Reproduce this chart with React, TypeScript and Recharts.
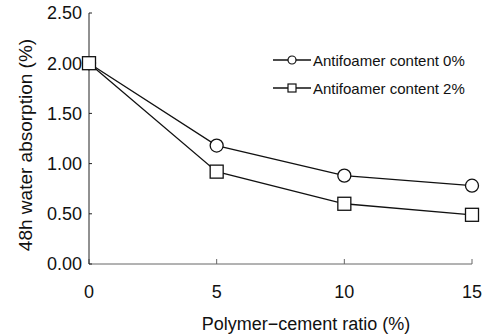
import React from 'react';
import { LineChart, Line, XAxis, YAxis, Legend, Label } from 'recharts';

// polymer-cement ratio (%)
const ratios = [0, 5, 10, 15];
// 48h water absorption (%)
const antifoamer0 = [2.0, 1.18, 0.88, 0.78];
const antifoamer2 = [2.0, 0.92, 0.6, 0.49];
const yTicks = [0, 0.5, 1.0, 1.5, 2.0, 2.5];
const seriesNames = ['Antifoamer content 0%', 'Antifoamer content 2%'];

const data = ratios.map((r, i) => ({ ratio: r, a0: antifoamer0[i], a2: antifoamer2[i] }));

const FONT = '"Liberation Sans", Arial, Helvetica, sans-serif';
const INK = '#111';

const CircleDot = (props: any) => {
  const { cx, cy } = props;
  if (cx == null || cy == null) return null;
  return <circle cx={cx} cy={cy} r={6.5} fill="#fff" stroke={INK} strokeWidth={1.3} />;
};

const SquareDot = (props: any) => {
  const { cx, cy } = props;
  if (cx == null || cy == null) return null;
  return <rect x={cx - 6.5} y={cy - 6.5} width={13} height={13} fill="#fff" stroke={INK} strokeWidth={1.3} />;
};

const LegendBox = () => (
  <div style={{ fontFamily: FONT, fontSize: 15, color: INK }}>
    {seriesNames.map((name, i) => (
      <div key={name} style={{ display: 'flex', alignItems: 'center', height: 28 }}>
        <svg width={38} height={14} style={{ marginRight: 2 }}>
          <line x1={0} y1={7} x2={38} y2={7} stroke={INK} strokeWidth={1.3} />
          {i === 0 ? (
            <circle cx={19} cy={7} r={4} fill="#fff" stroke={INK} strokeWidth={1.2} />
          ) : (
            <rect x={15} y={3} width={8} height={8} fill="#fff" stroke={INK} strokeWidth={1.2} />
          )}
        </svg>
        <span>{name}</span>
      </div>
    ))}
  </div>
);

const App: React.FC = () => {
  return (
    <div style={{ position: 'absolute', left: 0, top: 0, width: 486, height: 336, background: '#fff' }}>
      <LineChart width={486} height={336} data={data} margin={{ top: 13, right: 14, left: 0, bottom: 0 }}>
        <XAxis
          dataKey="ratio"
          type="number"
          domain={[0, 15]}
          ticks={ratios}
          height={72}
          tickSize={-5}
          tickMargin={26}
          stroke="#666"
          tick={{ fill: INK, fontSize: 18, fontFamily: FONT }}
        >
          <Label
            content={() => (
              <text x={306} y={330} textAnchor="middle" fontSize={18} fontFamily={FONT} fill={INK}>
                Polymer−cement ratio (%)
              </text>
            )}
          />
        </XAxis>
        <YAxis
          type="number"
          domain={[0, 2.5]}
          ticks={yTicks}
          width={89}
          tickSize={-3}
          tickMargin={10}
          stroke="#222"
          tickFormatter={(v: number) => v.toFixed(2)}
          tick={{ fill: INK, fontSize: 18, fontFamily: FONT }}
        >
          <Label
            content={() => (
              <text
                x={25}
                y={145}
                transform="rotate(-90 25 145)"
                textAnchor="middle"
                dominantBaseline="central"
                fontSize={19}
                fontFamily={FONT}
                fill={INK}
              >
                48h water absorption (%)
              </text>
            )}
          />
        </YAxis>
        {/* align center + middle keeps the legend from eating plot space */}
        <Legend
          layout="horizontal"
          verticalAlign="middle"
          align="center"
          content={<LegendBox />}
          wrapperStyle={{ top: 46, left: 273, width: 210 }}
        />
        <Line
          dataKey="a0"
          name={seriesNames[0]}
          stroke={INK}
          strokeWidth={1.3}
          dot={<CircleDot />}
          isAnimationActive={false}
        />
        <Line
          dataKey="a2"
          name={seriesNames[1]}
          stroke={INK}
          strokeWidth={1.3}
          dot={<SquareDot />}
          isAnimationActive={false}
        />
      </LineChart>
    </div>
  );
};

export default App;
